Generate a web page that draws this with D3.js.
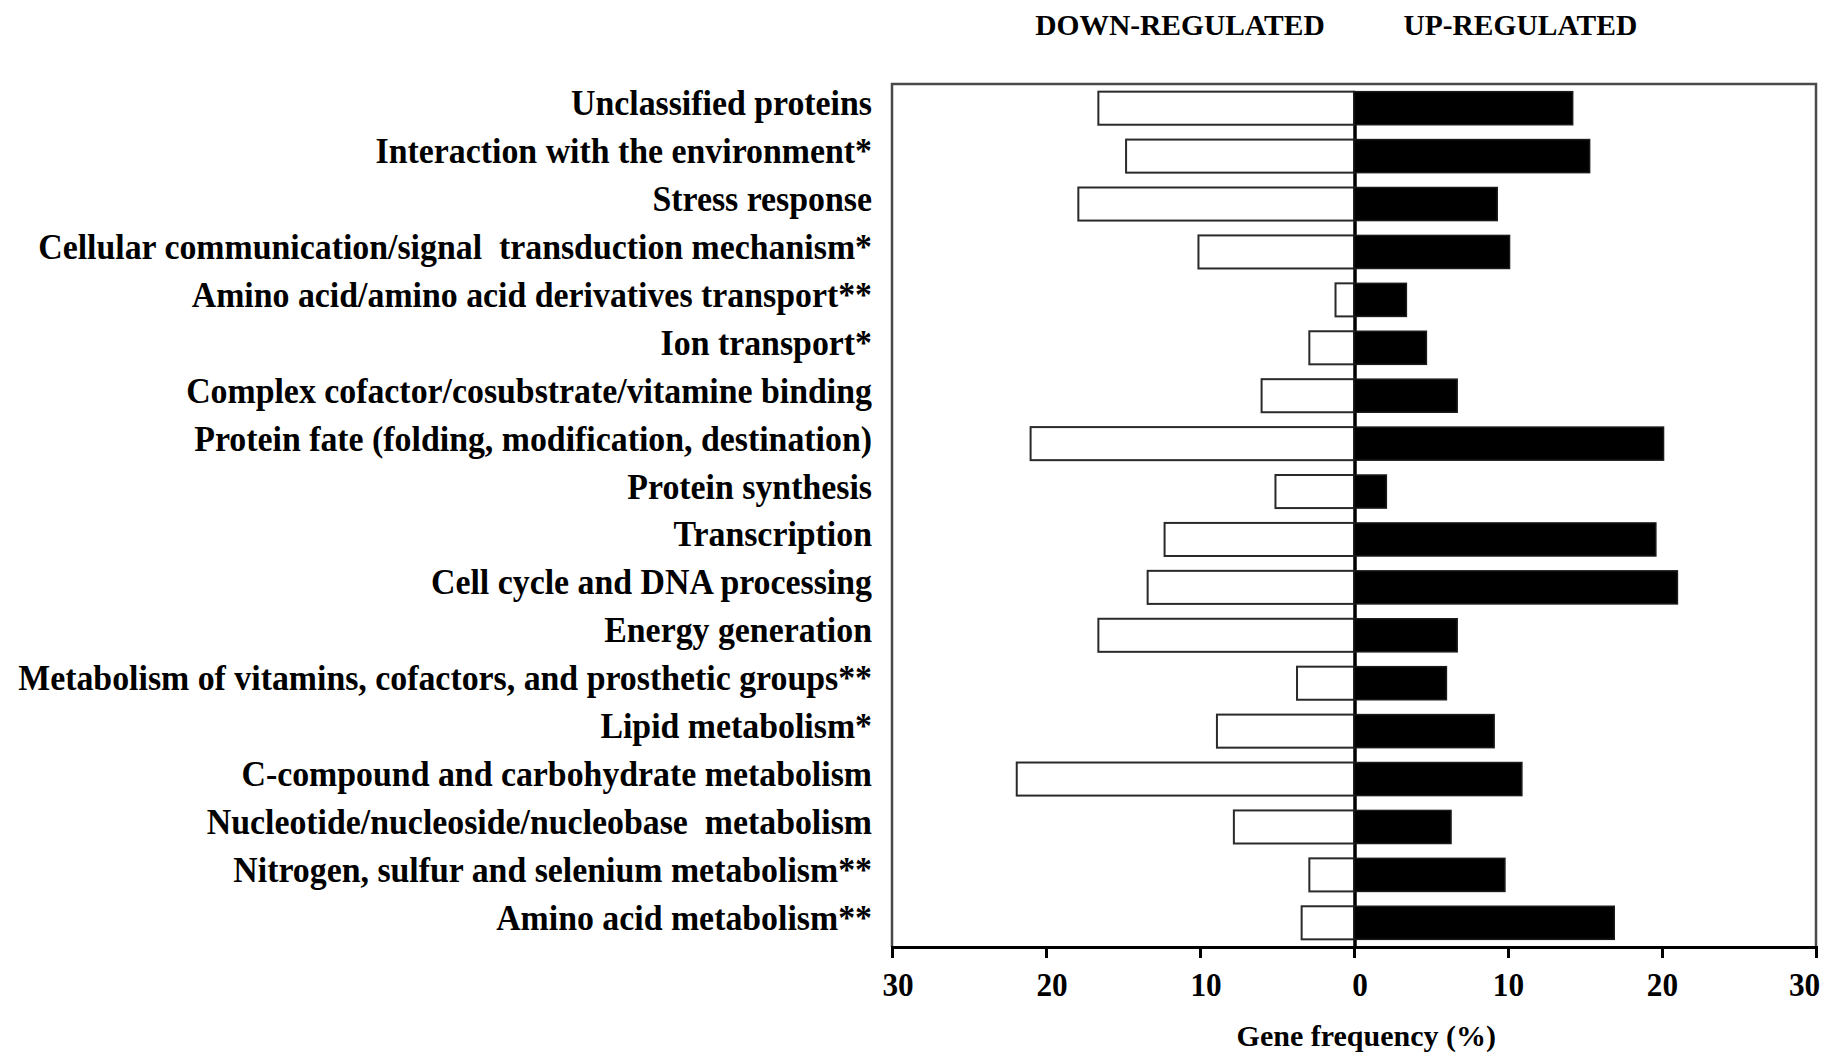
<!DOCTYPE html>
<meta charset="utf-8">
<script src="https://d3js.org/d3.v7.min.js"></script>
<style>
body { margin: 0; background: #fff; }
text { font-family: "Liberation Serif", "Times New Roman", serif; font-weight: bold; fill: #000; }
</style>
<div id="chart"></div>
<script>
// categories, top to bottom
var categories = [
  "Unclassified proteins",
  "Interaction with the environment*",
  "Stress response",
  "Cellular communication/signal  transduction mechanism*",
  "Amino acid/amino acid derivatives transport**",
  "Ion transport*",
  "Complex cofactor/cosubstrate/vitamine binding",
  "Protein fate (folding, modification, destination)",
  "Protein synthesis",
  "Transcription",
  "Cell cycle and DNA processing",
  "Energy generation",
  "Metabolism of vitamins, cofactors, and prosthetic groups**",
  "Lipid metabolism*",
  "C-compound and carbohydrate metabolism",
  "Nucleotide/nucleoside/nucleobase  metabolism",
  "Nitrogen, sulfur and selenium metabolism**",
  "Amino acid metabolism**"
];
// gene frequency (%)
var downRegulated = [16.6, 14.8, 17.9, 10.1, 1.2, 2.9, 6.0, 21.0, 5.1, 12.3, 13.4, 16.6, 3.7, 8.9, 21.9, 7.8, 2.9, 3.4];
var upRegulated   = [14.2, 15.3, 9.3, 10.1, 3.4, 4.7, 6.7, 20.1, 2.1, 19.6, 21.0, 6.7, 6.0, 9.1, 10.9, 6.3, 9.8, 16.9];
var tickValues = [-30, -20, -10, 0, 10, 20, 30];

var width = 1824, height = 1054;
var margin = {top: 84, right: 8, bottom: 107, left: 892};

var svg = d3.select("#chart").append("svg")
  .attr("width", width)
  .attr("height", height);

var x = d3.scaleLinear()
  .domain([-30, 30])
  .range([margin.left, width - margin.right]);

var y = d3.scaleBand()
  .domain(categories)
  .range([margin.top, height - margin.bottom])
  .paddingInner(0.31)
  .paddingOuter(0.16);

var data = categories.map(function(c, i) {
  return {name: c, down: downRegulated[i], up: upRegulated[i]};
});

// plot frame (top, left, right)
svg.append("path")
  .attr("d", "M" + x(-30) + "," + (height - margin.bottom) + "V" + margin.top +
             "H" + x(30) + "V" + (height - margin.bottom))
  .attr("fill", "none")
  .attr("stroke", "#4a4a4a")
  .attr("stroke-width", 2.5);

// zero line
svg.append("line")
  .attr("x1", x(0) + 1).attr("x2", x(0) + 1)
  .attr("y1", y(categories[0]))
  .attr("y2", height - margin.bottom)
  .attr("stroke", "#000")
  .attr("stroke-width", 3.5);

// down-regulated bars (white)
svg.append("g").selectAll("rect")
  .data(data)
  .enter().append("rect")
    .attr("x", function(d) { return x(-d.down); })
    .attr("y", function(d) { return y(d.name); })
    .attr("width", function(d) { return x(0) - x(-d.down); })
    .attr("height", y.bandwidth())
    .attr("fill", "#fff")
    .attr("stroke", "#2a2a2a")
    .attr("stroke-width", 2);

// up-regulated bars (black)
svg.append("g").selectAll("rect")
  .data(data)
  .enter().append("rect")
    .attr("x", x(0))
    .attr("y", function(d) { return y(d.name); })
    .attr("width", function(d) { return x(d.up) - x(0); })
    .attr("height", y.bandwidth())
    .attr("fill", "#000")
    .attr("stroke", "#1a1a1a")
    .attr("stroke-width", 1.5);

// category labels
svg.append("g").selectAll("text")
  .data(data)
  .enter().append("text")
    .attr("transform", function(d) {
      return "translate(" + (x(-30) - 20) + "," + (y(d.name) + y.bandwidth() / 2 + 7) + ") scale(0.94,1)";
    })
    .attr("text-anchor", "end")
    .style("font-size", "36px")
    .style("white-space", "pre")
    .text(function(d) { return d.name; });

// x axis
var xAxis = svg.append("g")
  .attr("transform", "translate(0," + (height - margin.bottom) + ")")
  .call(d3.axisBottom(x)
    .tickValues(tickValues)
    .tickSize(11)
    .tickPadding(14)
    .tickFormat(function(d) { return Math.abs(d); }));
xAxis.select(".domain").attr("stroke", "#000").attr("stroke-width", 3);
xAxis.selectAll(".tick line").attr("stroke", "#000").attr("stroke-width", 3);
xAxis.selectAll(".tick text")
  .attr("font-family", null)
  .style("font-size", "34px")
  .attr("transform", "scale(0.92,1)")
  .attr("text-anchor", function(d) { return d === 30 ? "end" : "middle"; })
  .attr("dx", function(d) { return d === 30 ? 4 : (d <= 0 ? 6 : 0); });

// axis title
svg.append("text")
  .attr("x", x(0.8))
  .attr("y", 1046)
  .attr("text-anchor", "middle")
  .style("font-size", "30px")
  .text("Gene frequency (%)");

// headers
svg.append("text")
  .attr("x", x(-11.3))
  .attr("y", 35)
  .attr("text-anchor", "middle")
  .style("font-size", "29.5px")
  .text("DOWN-REGULATED");
svg.append("text")
  .attr("x", x(10.8))
  .attr("y", 35)
  .attr("text-anchor", "middle")
  .style("font-size", "29.5px")
  .text("UP-REGULATED");
</script>
